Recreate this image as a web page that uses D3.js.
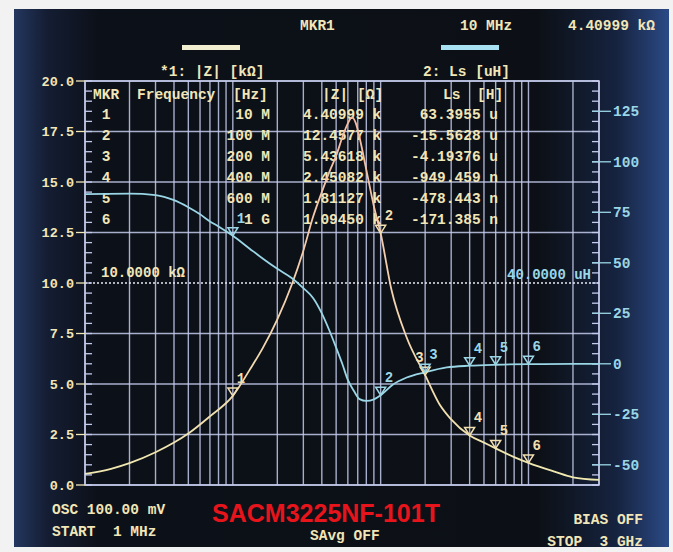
<!DOCTYPE html>
<html><head><meta charset="utf-8">
<script src="https://cdn.jsdelivr.net/npm/d3@7"></script>
<style>html,body{margin:0;padding:0;background:#f3f3f3;}svg{display:block;}</style>
</head><body>
<svg id="c" width="673" height="552"></svg>
<script>
// ---- data ----
const zFreqMHz = [1, 1.5, 2, 3, 4, 5, 7, 10, 13, 16, 20, 25, 30, 35, 40, 45, 50, 55, 60, 64, 68, 72, 80, 90, 100, 118, 150, 200, 250, 300, 400, 500, 600, 800, 1000, 1500, 2000, 3000];
const zKohm    = [0.55, 0.8, 1.08, 1.62, 2.1, 2.55, 3.4, 4.41, 5.7, 6.8, 8.2, 9.9, 11.6, 13.3, 14.5, 15.5, 16.3, 17.2, 17.9, 18.2, 17.9, 17.2, 15.6, 13.8, 12.46, 9.7, 7.3, 5.436, 4.0, 3.25, 2.451, 2.1, 1.811, 1.38, 1.0945, 0.66, 0.38, 0.25];
const lsFreqMHz = [1, 2, 3, 4, 5, 6, 7, 8, 10, 13, 16, 20, 25, 30, 35, 40, 45, 50, 55, 60, 66, 72, 80, 90, 100, 120, 150, 200, 280, 400, 600, 1000, 2000, 3000];
const lsUH      = [84, 84.2, 83.5, 81, 77.5, 74, 70.5, 68, 63.3955, 57, 52, 47, 42.5, 37.5, 32.5, 25, 16.5, 8, 0, -8, -13.5, -17.5, -18.4, -17.6, -15.5628, -10.5, -6.8, -4.19376, -1.8, -0.949459, -0.478443, -0.171385, -0.08, -0.05];
const markerNo = [1, 2, 3, 4, 5, 6];
const markerFreqHz = [10e6, 100e6, 200e6, 400e6, 600e6, 1e9];
const markerFreqText = ["10 M", "100 M", "200 M", "400 M", "600 M", "1 G"];
const markerZohm = [4409.99, 12457.7, 5436.18, 2450.82, 1811.27, 1094.50];
const markerLsH = [63.3955e-6, -15.5628e-6, -4.19376e-6, -949.459e-9, -478.443e-9, -171.385e-9];
const leftTicks = [0, 2.5, 5, 7.5, 10, 12.5, 15, 17.5, 20];
const rightTicks = [-50, -25, 0, 25, 50, 75, 100, 125];
const leftDomain = [0, 20];      // kΩ
const rightDomain = [-60, 140];  // uH
const freqDomain = [1e6, 3e9];
const refZ = 10, refLs = 40;

// ---- layout ----
const svg = d3.select("#c");
const X0 = 85, X1 = 599, Y0 = 81, Y1 = 485;
const x = d3.scaleLog().domain(freqDomain).range([X0, X1]);
const yL = d3.scaleLinear().domain(leftDomain).range([Y1, Y0]);
const yR = d3.scaleLinear().domain(rightDomain).range([Y1, Y0]);
const mono = "'Liberation Mono','DejaVu Sans Mono',monospace";
const cream = "#f1e6b8", cyan = "#9ad6e6", gridC = "#c4cbec";

const defs = svg.append("defs");
const bg = defs.append("linearGradient").attr("id", "bg").attr("x1", 0).attr("x2", 1).attr("y1", 0).attr("y2", 0);
[["0", "#24375f"], ["0.05", "#141d33"], ["0.13", "#0c1018"], ["0.8", "#0c1016"], ["0.92", "#16233f"], ["1", "#2b4a86"]]
  .forEach(s => bg.append("stop").attr("offset", s[0]).attr("stop-color", s[1]));
const zg = defs.append("linearGradient").attr("id", "zg").attr("gradientUnits", "userSpaceOnUse")
  .attr("x1", 0).attr("x2", 0).attr("y1", Y0).attr("y2", Y1);
[["0", "#f5b7a0"], ["0.5", "#f3cfae"], ["1", "#f0eab0"]]
  .forEach(s => zg.append("stop").attr("offset", s[0]).attr("stop-color", s[1]));

svg.append("rect").attr("x", 0).attr("y", 0).attr("width", 673).attr("height", 552).attr("fill", "#f2f2f2");
svg.append("rect").attr("x", 14).attr("y", 9).attr("width", 655).attr("height", 538).attr("fill", "url(#bg)");

// ---- grid ----
const g = svg.append("g");
const vlines = [];
for (let dec = 1e6; dec <= 1e9; dec *= 10) for (let m = 1; m <= 9; m++) { const f = dec * m; if (f <= 3e9) vlines.push(f); }
g.selectAll(".vl").data(vlines).join("line")
  .attr("x1", d => x(d)).attr("x2", d => x(d)).attr("y1", Y0).attr("y2", Y1)
  .attr("stroke", gridC).attr("stroke-width", 1.4).attr("opacity", 0.85);
g.selectAll(".hl").data(leftTicks.filter(d => d !== refZ)).join("line")
  .attr("x1", X0).attr("x2", X1).attr("y1", d => yL(d)).attr("y2", d => yL(d))
  .attr("stroke", gridC).attr("stroke-width", 1.4).attr("opacity", 0.85);
g.append("rect").attr("x", X0).attr("y", Y0).attr("width", X1 - X0).attr("height", Y1 - Y0)
  .attr("fill", "none").attr("stroke", gridC).attr("stroke-width", 1.5);
// reference line
g.append("line").attr("x1", X0).attr("x2", X1).attr("y1", yL(refZ)).attr("y2", yL(refZ))
  .attr("stroke", "#e8eaf4").attr("stroke-width", 1.6).attr("stroke-dasharray", "2,2");

// ---- left axis ----
const minorL = d3.range(0, 20.01, 0.5);
g.selectAll(".ml").data(minorL).join("line")
  .attr("x1", X0).attr("x2", X0 + 7).attr("y1", d => yL(d)).attr("y2", d => yL(d))
  .attr("stroke", gridC).attr("stroke-width", 1.3);
g.selectAll(".Ml").data(leftTicks).join("line")
  .attr("x1", X0 - 9).attr("x2", X0).attr("y1", d => yL(d)).attr("y2", d => yL(d))
  .attr("stroke", cream).attr("stroke-width", 1.3);
g.selectAll(".lt").data(leftTicks).join("text")
  .attr("x", X0 - 11).attr("y", d => yL(d)).attr("dy", "0.35em").attr("text-anchor", "end")
  .attr("font-family", mono).attr("font-weight", "bold").attr("font-size", 13.5).attr("fill", cream)
  .text(d => d.toFixed(1));

// ---- right axis ----
const minorR = d3.range(-60, 140.01, 5);
g.selectAll(".mr").data(minorR).join("line")
  .attr("x1", X1 - 7).attr("x2", X1).attr("y1", d => yR(d)).attr("y2", d => yR(d))
  .attr("stroke", gridC).attr("stroke-width", 1.3);
g.selectAll(".Mr").data(rightTicks).join("line")
  .attr("x1", X1 - 7).attr("x2", X1 + 12).attr("y1", d => yR(d)).attr("y2", d => yR(d))
  .attr("stroke", cyan).attr("stroke-width", 1.3);
g.selectAll(".rt").data(rightTicks).join("text")
  .attr("x", X1 + 14).attr("y", d => yR(d)).attr("dy", "0.35em")
  .attr("font-family", mono).attr("font-weight", "bold").attr("font-size", 14.5).attr("fill", cyan)
  .text(d => d < 0 ? "-" + Math.abs(d) : d);

// ---- table ----
const t = svg.append("g").attr("font-family", mono).attr("font-weight", "bold").attr("font-size", 14.5).attr("fill", cream);
const hy = 93.5, ry = i => 113.5 + i * 21;
t.append("text").attr("x", 93).attr("y", hy).attr("dy", "0.35em").text("MKR");
t.append("text").attr("x", 137).attr("y", hy).attr("dy", "0.35em").text("Frequency");
t.append("text").attr("x", 233).attr("y", hy).attr("dy", "0.35em").text("[Hz]");
t.append("text").attr("x", 322).attr("y", hy).attr("dy", "0.35em").text("|Z|");
t.append("text").attr("x", 357).attr("y", hy).attr("dy", "0.35em").text("[Ω]");
t.append("text").attr("x", 443).attr("y", hy).attr("dy", "0.35em").text("Ls");
t.append("text").attr("x", 477).attr("y", hy).attr("dy", "0.35em").text("[H]");
const f6 = v => d3.format(".6r")(v).replace("−", "-");
const lsText = v => Math.abs(v) >= 1e-6 ? f6(v * 1e6) + " u" : f6(v * 1e9) + " n";
markerNo.forEach((n, i) => {
  t.append("text").attr("x", 106).attr("y", ry(i)).attr("dy", "0.35em").attr("text-anchor", "middle").text(n);
  t.append("text").attr("x", 270).attr("y", ry(i)).attr("dy", "0.35em").attr("text-anchor", "end").text(markerFreqText[i]);
  t.append("text").attr("x", 303).attr("y", ry(i)).attr("dy", "0.35em").text(f6(markerZohm[i] / 1000) + " k");
  t.append("text").attr("x", 498).attr("y", ry(i)).attr("dy", "0.35em").attr("text-anchor", "end").text(lsText(markerLsH[i]));
});

// ---- traces ----
const lineZ = d3.line().x((d, i) => x(zFreqMHz[i] * 1e6)).y(d => yL(d)).curve(d3.curveMonotoneX);
const lineL = d3.line().x((d, i) => x(lsFreqMHz[i] * 1e6)).y(d => yR(d)).curve(d3.curveMonotoneX);
svg.append("path").attr("d", lineZ(zKohm)).attr("fill", "none").attr("stroke", "url(#zg)").attr("stroke-width", 1.8);
svg.append("path").attr("d", lineL(lsUH)).attr("fill", "none").attr("stroke", cyan).attr("stroke-width", 1.8);

// ---- markers ----
function marker(px, py, color, label, lx) {
  svg.append("path").attr("d", `M${px},${py} L${px - 5},${py - 8} L${px + 5},${py - 8} Z`)
    .attr("fill", "none").attr("stroke", color).attr("stroke-width", 1.5);
  svg.append("text").attr("x", px + (lx === undefined ? 4 : lx)).attr("y", py - 13)
    .attr("font-family", mono).attr("font-weight", "bold").attr("font-size", 14).attr("fill", color).text(label);
}
markerNo.forEach((n, i) => {
  marker(x(markerFreqHz[i]), yL(markerZohm[i] / 1000), "#f2dfb0", n, i === 2 ? -10 : 4);
  marker(x(markerFreqHz[i]), yR(markerLsH[i] * 1e6), cyan, n, 4);
});

// ---- reference labels ----
svg.append("text").attr("x", 101).attr("y", yL(refZ) - 11).attr("dy", "0.35em")
  .attr("font-family", mono).attr("font-weight", "bold").attr("font-size", 14).attr("fill", cream).text("10.0000 kΩ");
svg.append("text").attr("x", X1 - 8).attr("y", yR(refLs) - 9).attr("dy", "0.35em").attr("text-anchor", "end")
  .attr("font-family", mono).attr("font-weight", "bold").attr("font-size", 14).attr("fill", cyan).text("40.0000 uH");

// ---- header ----
const h = svg.append("g").attr("font-family", mono).attr("font-weight", "bold").attr("font-size", 14.5).attr("fill", cream);
h.append("text").attr("x", 300).attr("y", 25).attr("dy", "0.35em").text("MKR1");
h.append("text").attr("x", 460).attr("y", 25).attr("dy", "0.35em").text("10 MHz");
h.append("text").attr("x", 568).attr("y", 25).attr("dy", "0.35em").text("4.40999 kΩ");
svg.append("rect").attr("x", 182).attr("y", 45).attr("width", 58).attr("height", 5).attr("fill", "#f2efd0");
svg.append("rect").attr("x", 441).attr("y", 45).attr("width", 58).attr("height", 5).attr("fill", "#a8e2f2");
h.append("text").attr("x", 160).attr("y", 71).attr("dy", "0.35em").text("*1: |Z| [kΩ]");
h.append("text").attr("x", 423).attr("y", 71).attr("dy", "0.35em").text("2: Ls [uH]");

// ---- footer ----
const ft = svg.append("g").attr("font-family", mono).attr("font-weight", "bold").attr("font-size", 14.5).attr("fill", cream);
ft.append("text").attr("x", 52).attr("y", 509).attr("dy", "0.35em").text("OSC 100.00 mV");
ft.append("text").attr("x", 52).attr("y", 531).attr("dy", "0.35em").attr("xml:space", "preserve").style("white-space", "pre").text("START  1 MHz");
ft.append("text").attr("x", 310).attr("y", 535).attr("dy", "0.35em").text("SAvg OFF");
ft.append("text").attr("x", 643).attr("y", 519).attr("dy", "0.35em").attr("text-anchor", "end").text("BIAS OFF");
ft.append("text").attr("x", 643).attr("y", 541).attr("dy", "0.35em").attr("text-anchor", "end").style("white-space", "pre").text("STOP  3 GHz");
svg.append("text").attr("x", 326).attr("y", 522).attr("text-anchor", "middle")
  .attr("font-family", "'Liberation Sans',Arial,sans-serif").attr("font-weight", "bold").attr("font-size", 25)
  .attr("fill", "#e8141c").text("SACM3225NF-101T");
</script>
</body></html>
